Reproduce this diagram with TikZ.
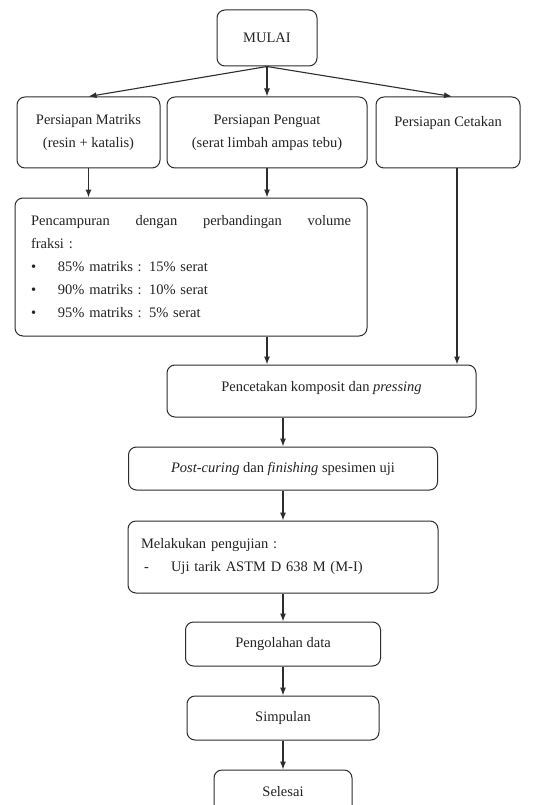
\documentclass[tikz,border=0pt]{standalone}
\usepackage{fontspec}
\setmainfont{Liberation Serif}
\usepackage{tikz}
\usetikzlibrary{arrows.meta, positioning}
\definecolor{linegray}{RGB}{45,45,45}
\definecolor{textgray}{RGB}{35,35,35}
\tikzset{
  box/.style={rectangle, rounded corners=8pt, draw=linegray, line width=1pt, fill=white, text=textgray, font=\fontsize{14.5}{23}\selectfont, align=center, inner sep=0pt},
  leftbox/.style={box, align=left},
  arrow/.style={-{Latex[length=8pt,width=6pt]}, line width=1.1pt, color=linegray},
}

\begin{document}
\begin{tikzpicture}[x=1pt, y=1pt, node distance=29pt]
  \useasboundingbox[fill=white] (0,0) rectangle (555,-805);
  % Start
  \node[box, minimum width=100pt, minimum height=56pt] (mulai) at (267,-38) {MULAI};
  % Preparation
  \node[box, minimum width=143pt, minimum height=71pt] (matriks) at (88.5,-132.5) {Persiapan Matriks\\(resin + katalis)};
  \node[box, minimum width=200pt, minimum height=71pt] (penguat) at (267,-132.5) {Persiapan Penguat\\(serat limbah ampas tebu)};
  \node[box, minimum width=144pt, minimum height=71pt] (cetakan) at (448,-132.5) {Persiapan Cetakan\\\mbox{}};
  % Mixing
  \node[leftbox, minimum width=352pt, minimum height=138pt, text width=320pt] (campur) at (191,-267) {%
    \hbox to 320pt{Pencampuran\hfill dengan\hfill perbandingan\hfill volume}\\
    fraksi :\\
    \makebox[27pt][l]{\textbullet}85\% matriks : 15\% serat\\
    \makebox[27pt][l]{\textbullet}90\% matriks : 10\% serat\\
    \makebox[27pt][l]{\textbullet}95\% matriks : 5\% serat};
  % Moulding
  \node[box, minimum width=309pt, minimum height=52pt] (cetak) at (321.5,-391) {\raisebox{0pt}[0pt][0pt]{Pencetakan komposit dan \textit{pressing}}};
  % Finishing and testing
  \node[box, minimum width=309pt, minimum height=43pt] (postcuring) at (283,-468.5) {\textit{Post-curing} dan \textit{finishing} spesimen uji};
  \node[leftbox, minimum width=310pt, minimum height=72pt, text width=284pt, below=30pt of postcuring] (uji) {%
    Melakukan pengujian :\\
    \hspace*{3pt}\makebox[27pt][l]{-}Uji tarik ASTM D 638 M (M-I)};
  \node[box, minimum width=195pt, minimum height=44pt, below=28pt of uji] (olah) {Pengolahan data};
  \node[box, minimum width=192pt, minimum height=44pt, below=29pt of olah] (simpulan) {Simpulan};
  \node[box, minimum width=138pt, minimum height=44pt, below=29pt of simpulan] (selesai) {Selesai};

  % Arrows start -> preparation
  \draw[arrow] (mulai.south) -- (matriks.north);
  \draw[arrow] (mulai.south) -- (penguat.north);
  \draw[arrow] (mulai.south) -- ([xshift=4pt]cetakan.north);
  % preparation -> mixing / moulding
  \draw[arrow] (matriks.south) -- (matriks.south |- campur.north);
  \draw[arrow] (penguat.south) -- (penguat.south |- campur.north);
  \draw[arrow] (penguat.south |- campur.south) -- (penguat.south |- cetak.north);
  \draw[arrow] ([xshift=9pt]cetakan.south) -- ([xshift=9pt]cetakan.south |- cetak.north);
  % lower chain
  \draw[arrow] (postcuring.north |- cetak.south) -- (postcuring.north);
  \draw[arrow] (postcuring) -- (uji);
  \draw[arrow] (uji) -- (olah);
  \draw[arrow] (olah) -- (simpulan);
  \draw[arrow] (simpulan) -- (selesai);
\end{tikzpicture}
\end{document}
